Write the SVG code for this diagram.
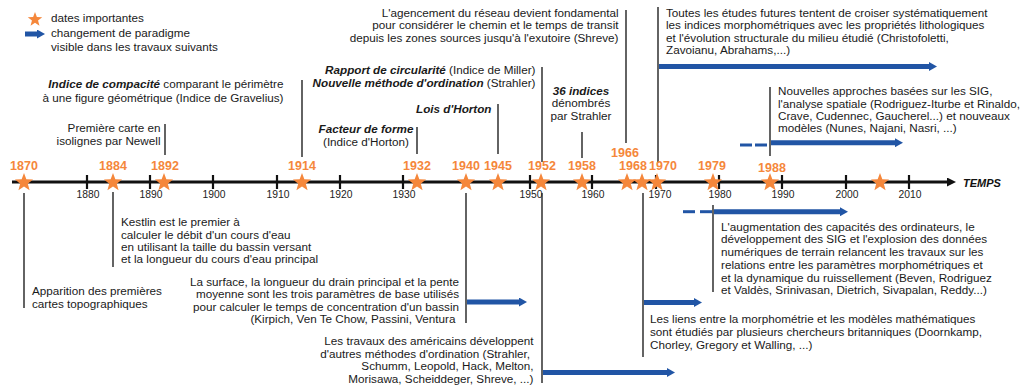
<svg xmlns="http://www.w3.org/2000/svg" xmlns:xlink="http://www.w3.org/1999/xlink" width="1023" height="389" viewBox="0 0 1023 389">
<style>
text{font-family:"Liberation Sans",Arial,sans-serif}
.t{font-size:11.7px;fill:#1a1a1a}
.bi{font-weight:bold;font-style:italic}
.yr{font-size:12.5px;font-weight:bold;fill:#f5873b;text-anchor:middle}
.tk{font-size:10.3px;fill:#222;text-anchor:middle}
.e{text-anchor:end}
.m{text-anchor:middle}
.v{stroke:#222;stroke-width:1.4;fill:none}
.blue{stroke:#2155a5;stroke-width:5;fill:none}
.dash{stroke:#2155a5;stroke-width:3;fill:none}
.tick{stroke:#111;stroke-width:2.2}
.star{fill:#f5873b}
</style>
<defs>
<path id="star" d="M0,-9.5 L2.351,-3.236 L9.035,-2.936 L3.804,1.236 L5.584,7.686 L0,4 L-5.584,7.686 L-3.804,1.236 L-9.035,-2.936 L-2.351,-3.236 Z"/>
<marker id="bh" viewBox="0 0 8 9" refX="0" refY="4.5" markerWidth="8" markerHeight="9" markerUnits="userSpaceOnUse" orient="auto"><path d="M0,0 L8,4.5 L0,9 Z" fill="#2155a5"/></marker>
<marker id="kh" viewBox="0 0 9 9" refX="0" refY="4.5" markerWidth="9" markerHeight="9" markerUnits="userSpaceOnUse" orient="auto"><path d="M0,0 L9,4.5 L0,9 Z" fill="#111"/></marker>
</defs>
<rect width="1023" height="389" fill="#fff"/>

<g id="legend">
<use href="#star" class="star" transform="translate(35,19.5) scale(0.8)"/>
<line class="blue" x1="25" y1="34" x2="37" y2="34" marker-end="url(#bh)"/>
<text class="t" x="51" y="22">dates importantes</text>
<text class="t" x="51" y="36.5">changement de paradigme</text>
<text class="t" x="51" y="51">visible dans les travaux suivants</text>
</g>

<g id="axis">
<line x1="12" y1="182" x2="947" y2="182" stroke="#111" stroke-width="2.8" marker-end="url(#kh)"/>
<g class="tick">
<line x1="87" y1="175" x2="87" y2="189"/>
<line x1="150" y1="175" x2="150" y2="189"/>
<line x1="213" y1="175" x2="213" y2="189"/>
<line x1="277" y1="175" x2="277" y2="189"/>
<line x1="340" y1="175" x2="340" y2="189"/>
<line x1="403" y1="175" x2="403" y2="189"/>
<line x1="530" y1="175" x2="530" y2="189"/>
<line x1="592" y1="175" x2="592" y2="189"/>
<line x1="656" y1="175" x2="656" y2="189"/>
<line x1="719" y1="175" x2="719" y2="189"/>
<line x1="782" y1="175" x2="782" y2="189"/>
<line x1="846" y1="175" x2="846" y2="189"/>
<line x1="909" y1="175" x2="909" y2="189"/>
</g>
<text class="tk" x="88" y="198">1880</text>
<text class="tk" x="151" y="198">1890</text>
<text class="tk" x="214" y="198">1900</text>
<text class="tk" x="278" y="198">1910</text>
<text class="tk" x="341" y="198">1920</text>
<text class="tk" x="404" y="198">1930</text>
<text class="tk" x="531" y="198">1950</text>
<text class="tk" x="593" y="198">1960</text>
<text class="tk" x="660" y="198">1970</text>
<text class="tk" x="720" y="198">1980</text>
<text class="tk" x="783" y="198">1990</text>
<text class="tk" x="847" y="198">2000</text>
<text class="tk" x="910" y="198">2010</text>
<text x="963" y="187" font-size="11px" font-weight="bold" font-style="italic" fill="#111">TEMPS</text>
</g>

<g id="connectors">
<line class="v" x1="24" y1="193" x2="24" y2="308"/>
<line class="v" x1="113" y1="192" x2="113" y2="267"/>
<line class="v" x1="165" y1="124" x2="165" y2="155"/>
<line class="v" x1="302" y1="80" x2="302" y2="157"/>
<line class="v" x1="417" y1="127" x2="417" y2="154"/>
<line class="v" x1="466" y1="193" x2="466" y2="323"/>
<line class="v" x1="498" y1="104" x2="498" y2="154"/>
<line class="v" x1="542" y1="67" x2="542" y2="162"/>
<line class="v" x1="542" y1="193" x2="542" y2="383"/>
<line class="v" x1="582" y1="132" x2="582" y2="158"/>
<line class="v" x1="626" y1="10" x2="626" y2="143"/>
<line class="v" x1="643" y1="193" x2="643" y2="357"/>
<line class="v" x1="658" y1="7" x2="658" y2="163"/>
<line class="v" x1="713" y1="205" x2="713" y2="292"/>
<line class="v" x1="770" y1="87" x2="770" y2="156"/>
<line class="blue" x1="467" y1="302" x2="519" y2="302" marker-end="url(#bh)"/>
<line class="blue" x1="543" y1="372.5" x2="667" y2="372.5" marker-end="url(#bh)"/>
<line class="blue" x1="644" y1="302.5" x2="694" y2="302.5" marker-end="url(#bh)"/>
<line class="blue" x1="659" y1="66.5" x2="929" y2="66.5" marker-end="url(#bh)"/>
<line class="dash" x1="683" y1="211.7" x2="695" y2="211.7"/>
<line class="dash" x1="700" y1="211.7" x2="712" y2="211.7"/>
<line class="blue" x1="714" y1="211.7" x2="840" y2="211.7" marker-end="url(#bh)"/>
<line class="dash" x1="740" y1="145" x2="752" y2="145"/>
<line class="dash" x1="755" y1="145" x2="767" y2="145"/>
<line class="blue" x1="771" y1="142.7" x2="895" y2="142.7" marker-end="url(#bh)"/>
</g>

<g id="event-1870">
<use href="#star" class="star" x="24" y="182.5"/>
<text class="yr" x="24" y="170">1870</text>
<text class="t" x="32" y="295.3">Apparition des premières</text>
<text class="t" x="32" y="307.5">cartes topographiques</text>
</g>
<g id="event-1884">
<use href="#star" class="star" x="113" y="182.5"/>
<text class="yr" x="113" y="170">1884</text>
<text class="t" x="121" y="226.3">Kestlin est le premier à</text>
<text class="t" x="121" y="238.5">calculer le débit d'un cours d'eau</text>
<text class="t" x="121" y="250.8">en utilisant la taille du bassin versant</text>
<text class="t" x="121" y="263">et la longueur du cours d'eau principal</text>
</g>
<g id="event-1892">
<use href="#star" class="star" x="164" y="182.5"/>
<text class="yr" x="165" y="170">1892</text>
<text class="t e" x="160.5" y="132">Première carte en</text>
<text class="t e" x="160.5" y="144.5">isolignes par Newell</text>
</g>
<g id="event-1914">
<use href="#star" class="star" x="302" y="182.5"/>
<text class="yr" x="302" y="170">1914</text>
<text class="t e" x="283.5" y="88"><tspan class="bi">Indice de compacité</tspan> comparant le périmètre</text>
<text class="t e" x="283.5" y="101.5">à une figure géométrique (Indice de Gravelius)</text>
</g>
<g id="event-1932">
<use href="#star" class="star" x="417" y="182.5"/>
<text class="yr" x="417" y="170">1932</text>
<text class="t m bi" x="366" y="133.4">Facteur de forme</text>
<text class="t m" x="366" y="146">(Indice d'Horton)</text>
</g>
<g id="event-1940">
<use href="#star" class="star" x="466" y="182.5"/>
<text class="yr" x="466" y="170">1940</text>
<text class="t e" x="459" y="286">La surface, la longueur du drain principal et la pente</text>
<text class="t e" x="459" y="298.3">moyenne sont les trois paramètres de base utilisés</text>
<text class="t e" x="459" y="310.5">pour calculer le temps de concentration d'un bassin</text>
<text class="t e" x="455.5" y="322.5">(Kirpich, Ven Te Chow, Passini, Ventura</text>
</g>
<g id="event-1945">
<use href="#star" class="star" x="498" y="182.5"/>
<text class="yr" x="498" y="170">1945</text>
<text class="t e bi" x="491.5" y="113">Lois d'Horton</text>
</g>
<g id="event-1952">
<use href="#star" class="star" x="541" y="182.5"/>
<text class="yr" x="542" y="170">1952</text>
<text class="t e" x="535.5" y="74"><tspan class="bi">Rapport de circularité</tspan> (Indice de Miller)</text>
<text class="t e" x="535.5" y="86.5"><tspan class="bi">Nouvelle méthode d'ordination</tspan> (Strahler)</text>
<text class="t e" x="533.5" y="345">Les travaux des américains développent</text>
<text class="t e" x="530" y="357.7">d'autres méthodes d'ordination (Strahler,</text>
<text class="t e" x="533.5" y="370.3">Schumm, Leopold, Hack, Melton,</text>
<text class="t e" x="533.5" y="383">Morisawa, Scheiddeger, Shreve, ...)</text>
</g>
<g id="event-1958">
<use href="#star" class="star" x="582" y="182.5"/>
<text class="yr" x="582" y="170">1958</text>
<text class="t m bi" x="581" y="95">36 indices</text>
<text class="t m" x="581" y="107.3">dénombrés</text>
<text class="t m" x="581" y="119.5">par Strahler</text>
</g>
<g id="event-1966">
<use href="#star" class="star" x="627" y="182.5"/>
<text class="yr" x="625" y="157">1966</text>
<text class="t e" x="618.5" y="16.5">L'agencement du réseau devient fondamental</text>
<text class="t e" x="618.5" y="29">pour considérer le chemin et le temps de transit</text>
<text class="t e" x="618.5" y="41.5">depuis les zones sources jusqu'à l'exutoire (Shreve)</text>
</g>
<g id="event-1968">
<use href="#star" class="star" x="642" y="182.5"/>
<text class="yr" x="633" y="170">1968</text>
<text class="t" x="650" y="322.5">Les liens entre la morphométrie et les modèles mathématiques</text>
<text class="t" x="650" y="335.5">sont étudiés par plusieurs chercheurs britanniques (Doornkamp,</text>
<text class="t" x="650" y="348.5">Chorley, Gregory et Walling, ...)</text>
</g>
<g id="event-1970">
<use href="#star" class="star" x="657" y="182.5"/>
<text class="yr" x="663" y="170">1970</text>
<text class="t" x="666" y="16.5">Toutes les études futures tentent de croiser systématiquement</text>
<text class="t" x="666" y="29">les indices morphométriques avec les propriétés lithologiques</text>
<text class="t" x="666" y="41.7">et l'évolution structurale du milieu étudié (Christofoletti,</text>
<text class="t" x="666" y="54.4">Zavoianu, Abrahams,...)</text>
</g>
<g id="event-1979">
<use href="#star" class="star" x="713" y="182.5"/>
<text class="yr" x="712" y="170">1979</text>
<text class="t" x="721" y="230.5">L'augmentation des capacités des ordinateurs, le</text>
<text class="t" x="721" y="243.3">développement des SIG et l'explosion des données</text>
<text class="t" x="721" y="256">numériques de terrain relancent les travaux sur les</text>
<text class="t" x="721" y="268.8">relations entre les paramètres morphométriques et</text>
<text class="t" x="721" y="281.5">et la dynamique du ruissellement (Beven, Rodriguez</text>
<text class="t" x="721" y="294.3">et Valdès, Srinivasan, Dietrich, Sivapalan, Reddy...)</text>
</g>
<g id="event-1988">
<use href="#star" class="star" x="770" y="182.5"/>
<text class="yr" x="772" y="172">1988</text>
<text class="t" x="778" y="95.3">Nouvelles approches basées sur les SIG,</text>
<text class="t" x="778" y="107.5">l'analyse spatiale (Rodriguez-Iturbe et Rinaldo,</text>
<text class="t" x="778" y="120">Crave, Cudennec, Gaucherel...) et nouveaux</text>
<text class="t" x="778" y="132.3">modèles (Nunes, Najani, Nasri, ...)</text>
</g>
<g id="event-2005">
<use href="#star" class="star" x="880" y="182.5"/>
</g>
</svg>
